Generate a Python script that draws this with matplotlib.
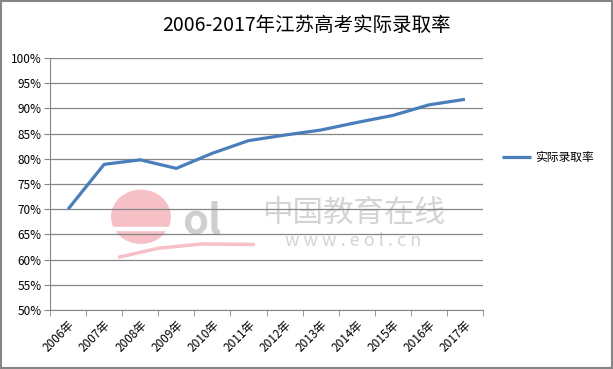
import matplotlib.pyplot as plt
from matplotlib.patches import Rectangle, Ellipse

plt.rcParams['font.family'] = ['Noto Sans CJK SC', 'DejaVu Sans']

# data
years = ['2006年', '2007年', '2008年', '2009年', '2010年', '2011年',
         '2012年', '2013年', '2014年', '2015年', '2016年', '2017年']
rate = [70.0, 78.9, 79.8, 78.1, 81.1, 83.6, 84.7, 85.7, 87.2, 88.6, 90.7, 91.8]
yticks = list(range(50, 101, 5))
series_name = '实际录取率'
title = '2006-2017年江苏高考实际录取率'

fig = plt.figure(figsize=(6.13, 3.69), dpi=100)
ax = fig.add_axes([50 / 613, 59 / 369, 433 / 613, 252 / 369])

x = list(range(len(years)))

# faint eol watermark behind the line (axes fraction coords)
ax.add_patch(Ellipse((0.21, 0.37), 0.135, 0.21, angle=0, color='#f6c0c6',
                     transform=ax.transAxes, zorder=0.1))
ax.add_patch(Rectangle((0.12, 0.316), 0.18, 0.012, color='white',
                       transform=ax.transAxes, zorder=0.2))
ax.plot([0.16, 0.25, 0.35, 0.47], [0.21, 0.245, 0.262, 0.26],
        color='#f6c0c6', lw=2.5, solid_capstyle='round', transform=ax.transAxes, zorder=0.1)
ax.text(0.35, 0.35, 'ol', fontsize=30, fontweight='bold', color='#cfcfcf',
        ha='center', va='center', transform=ax.transAxes, zorder=0.1)
ax.text(0.70, 0.385, '中国教育在线', fontsize=22, color='#d4d4d4',
        ha='center', va='center', transform=ax.transAxes, zorder=0.1)
ax.text(0.70, 0.275, 'w w w . e o l . c n', fontsize=13, color='#d4d4d4',
        ha='center', va='center', transform=ax.transAxes, zorder=0.1)

ax.plot(x, rate, color='#4a7ebb', lw=2.3, solid_capstyle='butt', label=series_name, zorder=3)

ax.set_xlim(-0.5, len(years) - 0.5)
ax.set_ylim(50, 100)
ax.set_yticks(yticks)
ax.set_yticklabels([f'{v}%' for v in yticks], fontsize=8.5)
ax.set_xticks(x)
ax.set_xticklabels(years, rotation=45, ha='right', rotation_mode='anchor', fontsize=8.5)
ax.set_xticks([i - 0.5 for i in range(len(years) + 1)], minor=True)
ax.tick_params(axis='x', which='major', length=0, pad=6)
ax.tick_params(axis='x', which='minor', length=4, color='#868686', direction='out')
ax.tick_params(axis='y', length=4, color='#868686', direction='out', pad=2)

ax.grid(axis='y', color='#868686', lw=0.9, zorder=1)
for s in ['top', 'right']:
    ax.spines[s].set_visible(False)
for s in ['left', 'bottom']:
    ax.spines[s].set_color('#868686')

fig.text(0.5, 0.93, title, ha='center', va='center', fontsize=14)

leg = ax.legend(loc='center left', bbox_to_anchor=(1.02, 0.605), frameon=False,
                fontsize=8.5, handlelength=2.4, handletextpad=0.4)

# gray border round the whole picture
fig.patches.append(Rectangle((0.001, 0.002), 0.997, 0.995, transform=fig.transFigure,
                             fill=False, edgecolor='#868686', lw=1.5))

fig.savefig('out.png', dpi=100)
